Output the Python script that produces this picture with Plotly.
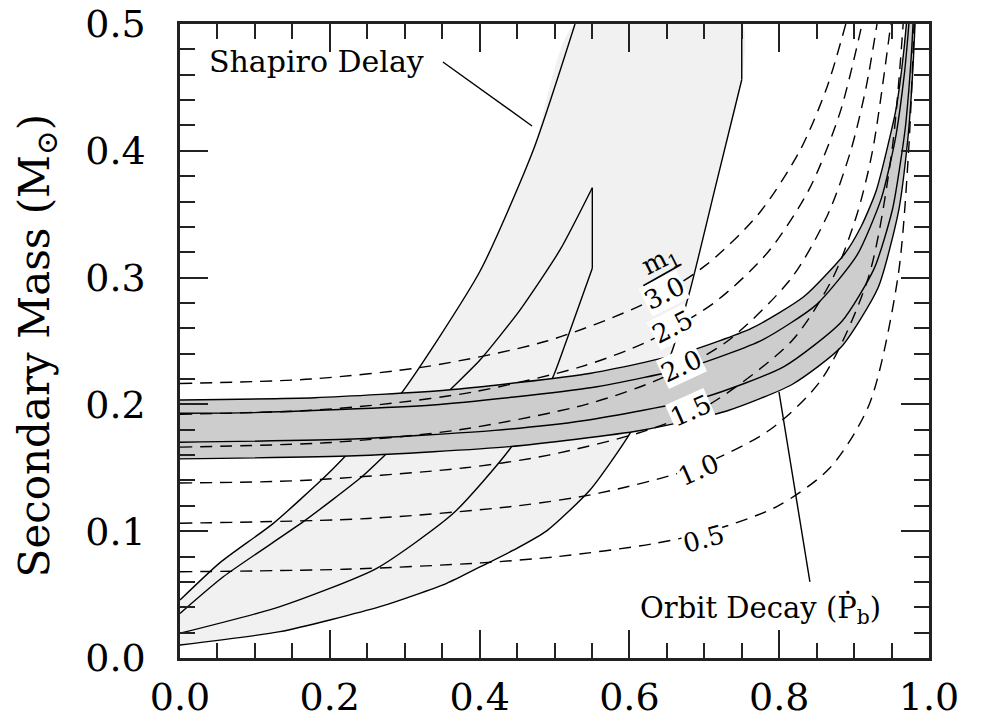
import plotly.graph_objects as go

FONT = "DejaVu Serif"

# Constant pulsar-mass curves (x = cos i, y = companion mass), one per m1 value
m1_values = ["0.5", "1.0", "1.5", "2.0", "2.5", "3.0"]
cosi_m1_05 = [0, 0.2195, 0.4016, 0.5042, 0.6302, 0.7076, 0.7986, 0.8678, 0.9202, 0.9584, 0.9728, 0.9801]
m2_m1_05 = [0.068, 0.070, 0.075, 0.080, 0.090, 0.100, 0.120, 0.150, 0.200, 0.300, 0.400, 0.500]
cosi_m1_10 = [0, 0.2506, 0.4507, 0.5594, 0.6868, 0.7876, 0.8569, 0.9190, 0.9505, 0.9655]
m2_m1_10 = [0.1063, 0.110, 0.120, 0.130, 0.150, 0.180, 0.220, 0.300, 0.400, 0.500]
cosi_m1_15 = [0, 0.1625, 0.3807, 0.4923, 0.6260, 0.7068, 0.8167, 0.8718, 0.9039, 0.9246, 0.9490]
m2_m1_15 = [0.138, 0.140, 0.150, 0.160, 0.180, 0.200, 0.250, 0.300, 0.350, 0.400, 0.500]
cosi_m1_20 = [0, 0.2020, 0.3731, 0.5424, 0.6401, 0.7312, 0.8168, 0.8651, 0.8955, 0.9160, 0.9306]
m2_m1_20 = [0.1663, 0.170, 0.180, 0.200, 0.220, 0.250, 0.300, 0.350, 0.400, 0.450, 0.500]
cosi_m1_25 = [0, 0.1637, 0.2694, 0.3933, 0.5370, 0.6259, 0.7128, 0.7849, 0.8403, 0.8811, 0.9106]
m2_m1_25 = [0.1922, 0.195, 0.200, 0.210, 0.230, 0.250, 0.280, 0.320, 0.370, 0.430, 0.500]
cosi_m1_30 = [0, 0.1749, 0.3308, 0.4899, 0.6218, 0.7025, 0.7722, 0.8275, 0.8637, 0.8889]
m2_m1_30 = [0.2165, 0.220, 0.230, 0.250, 0.280, 0.310, 0.350, 0.400, 0.450, 0.500]

# Orbit-decay (Pb-dot) band: outer edges and two inner curves
pb_top_x = [0, 0.1798, 0.3571, 0.5485, 0.6725, 0.7634, 0.8331, 0.8872, 0.9097, 0.9295, 0.9554, 0.9634, 0.9698, 0.9770]
pb_top_y = [0.2035, 0.2053, 0.2113, 0.2246, 0.2406, 0.2601, 0.2851, 0.3186, 0.3407, 0.3685, 0.4310, 0.4635, 0.4997, 0.5601]
pb_in1_x = [0, 0.0964, 0.3376, 0.5503, 0.6827, 0.7778, 0.8494, 0.9039, 0.9364, 0.9550, 0.9675, 0.9712, 0.9732, 0.9753, 0.9778]
pb_in1_y = [0.1930, 0.1935, 0.1995, 0.2133, 0.2299, 0.2509, 0.2785, 0.3177, 0.3625, 0.4092, 0.4627, 0.4861, 0.5008, 0.5190, 0.5440]
pb_in2_x = [0, 0.2310, 0.4200, 0.5381, 0.6983, 0.8064, 0.8835, 0.9272, 0.9515, 0.9679, 0.9733, 0.9769, 0.9807]
pb_in2_y = [0.1701, 0.1727, 0.1795, 0.1871, 0.2053, 0.2298, 0.2654, 0.3077, 0.3545, 0.4158, 0.4497, 0.4799, 0.5227]
pb_bot_x = [0, 0.2341, 0.4398, 0.6148, 0.7319, 0.8177, 0.8824, 0.9320, 0.9597, 0.9718, 0.9764, 0.9793, 0.9818]
pb_bot_y = [0.1570, 0.1595, 0.1667, 0.1794, 0.1952, 0.2159, 0.2450, 0.2920, 0.3535, 0.4097, 0.4442, 0.4738, 0.5058]

# Shapiro-delay contours: outer region edges
sh_left_x = [0, 0.0534, 0.1246, 0.1913, 0.2180, 0.2937, 0.4005, 0.4717, 0.5274]
sh_left_y = [0.0457, 0.0752, 0.1062, 0.1417, 0.1575, 0.2074, 0.3050, 0.4006, 0.5000]
sh_right_x = [0, 0.1335, 0.2670, 0.3561, 0.4005, 0.4450, 0.4896, 0.5474, 0.6008, 0.6542, 0.6810, 0.7150, 0.7500]
sh_right_y = [0.0103, 0.0208, 0.0405, 0.0589, 0.0718, 0.0850, 0.1003, 0.1325, 0.1772, 0.2376, 0.2900, 0.3720, 0.4560]
sh_right_cap_x = [0.75, 0.75]
sh_right_cap_y = [0.456, 0.500]
# inner contour: upper edge, cut edge, lower edge
sh_in_up_x = [0, 0.0578, 0.1646, 0.2403, 0.2714, 0.3605, 0.4005, 0.4539, 0.5073, 0.5505]
sh_in_up_y = [0.0352, 0.0641, 0.1075, 0.1417, 0.1588, 0.2114, 0.2350, 0.2744, 0.3218, 0.3709]
sh_in_cut_x = [0.5505, 0.5505]
sh_in_cut_y = [0.3709, 0.3073]
sh_in_lo_x = [0.5505, 0.5163, 0.4962, 0.4406, 0.3649, 0.2626, 0.1335, 0]
sh_in_lo_y = [0.3073, 0.2508, 0.2192, 0.1650, 0.1141, 0.0707, 0.0405, 0.0195]

fig = go.Figure()

# Shapiro region fill
fig.add_trace(go.Scatter(
    x=sh_left_x + [0.75] + sh_right_x[::-1],
    y=sh_left_y + [0.5] + sh_right_y[::-1],
    fill="toself", fillcolor="#f1f1f1", line=dict(width=0, shape="spline", smoothing=0.6),
    mode="lines", hoverinfo="skip"))
for xs, ys, shape in [(sh_left_x, sh_left_y, "spline"), (sh_right_x, sh_right_y, "spline"),
                      (sh_right_cap_x, sh_right_cap_y, "linear"),
                      (sh_in_up_x, sh_in_up_y, "spline"), (sh_in_cut_x, sh_in_cut_y, "linear"),
                      (sh_in_lo_x, sh_in_lo_y, "spline")]:
    fig.add_trace(go.Scatter(x=xs, y=ys, mode="lines",
                             line=dict(color="black", width=1.4, shape=shape, smoothing=0.6),
                             hoverinfo="skip"))

# Orbit-decay band
fig.add_trace(go.Scatter(
    x=pb_top_x + pb_bot_x[::-1], y=pb_top_y + pb_bot_y[::-1],
    fill="toself", fillcolor="#cdcdcd", mode="lines",
    line=dict(width=0, shape="spline", smoothing=0.6), hoverinfo="skip"))
for xs, ys in [(pb_top_x, pb_top_y), (pb_in1_x, pb_in1_y), (pb_in2_x, pb_in2_y), (pb_bot_x, pb_bot_y)]:
    fig.add_trace(go.Scatter(x=xs, y=ys, mode="lines",
                             line=dict(color="black", width=1.4, shape="spline", smoothing=0.6),
                             hoverinfo="skip"))

# Mass-function curves
for xs, ys in [(cosi_m1_05, m2_m1_05), (cosi_m1_10, m2_m1_10), (cosi_m1_15, m2_m1_15),
               (cosi_m1_20, m2_m1_20), (cosi_m1_25, m2_m1_25), (cosi_m1_30, m2_m1_30)]:
    fig.add_trace(go.Scatter(x=xs, y=ys, mode="lines",
                             line=dict(color="black", width=1.4, dash="12px,8px",
                                       shape="spline", smoothing=0.8),
                             hoverinfo="skip"))

# Curve labels
label_pos = {
    "0.5": (0.699, 0.094, -15),
    "1.0": (0.692, 0.148, -24),
    "1.5": (0.681, 0.195, -24),
    "2.0": (0.670, 0.230, -25),
    "2.5": (0.657, 0.261, -27),
    "3.0": (0.6475, 0.2875, -27),
}
for lab in m1_values:
    x, y, ang = label_pos[lab]
    fig.add_annotation(x=x, y=y, text=lab, showarrow=False, textangle=ang,
                       bgcolor="white", borderpad=0,
                       font=dict(family=FONT, size=26, color="black"))
fig.add_annotation(x=0.641, y=0.3135, text="m<sub>1</sub>", showarrow=False, textangle=-27,
                   font=dict(family=FONT, size=26, color="black"))
fig.add_shape(type="line", x0=0.6186, y0=0.2935, x1=0.6695, y1=0.3105,
              line=dict(color="black", width=1.8), layer="above")

# Region labels and leader lines
fig.add_annotation(x=0.1829, y=0.4705, text="Shapiro Delay", showarrow=False,
                   font=dict(family=FONT, size=30, color="black"))
fig.add_shape(type="line", x0=0.351, y0=0.470, x1=0.470, y1=0.4196,
              line=dict(color="black", width=1.4), layer="above")
fig.add_annotation(x=0.7755, y=0.0385, text="Orbit Decay (Ṗ<sub>b</sub>)", showarrow=False,
                   font=dict(family=FONT, size=29, color="black"))
fig.add_shape(type="line", x0=0.7997, y0=0.2098, x1=0.841, y1=0.060,
              line=dict(color="black", width=1.4), layer="above")

# Y-axis title
fig.add_annotation(xref="paper", yref="paper", x=-0.191, y=0.493,
                   xanchor="center", yanchor="middle",
                   text="Secondary Mass (M<sub>⊙</sub>)", showarrow=False, textangle=-90,
                   font=dict(family=FONT, size=42, color="black"))

tickfont = dict(family=FONT, size=38, color="black")
axis_style = dict(ticks="inside", ticklen=28, tickwidth=2, tickcolor="#222222", mirror="ticks",
                  showline=True, linecolor="#222222", linewidth=2.5,
                  showgrid=False, zeroline=False, automargin=False, tickfont=tickfont,
                  tick0=0, tickmode="linear", tickformat=".1f")

fig.update_layout(
    xaxis=dict(range=[0, 1.0], dtick=0.2, ticklabelstandoff=4,
               minor=dict(ticks="inside", ticklen=15, tickwidth=1.8, tickcolor="#222222",
                          tickmode="linear", tick0=0, dtick=0.05),
               **axis_style),
    yaxis=dict(range=[0, 0.5], dtick=0.1, ticklabelstandoff=24,
               minor=dict(ticks="inside", ticklen=15, tickwidth=1.8, tickcolor="#222222",
                          tickmode="linear", tick0=0, dtick=0.02),
               **axis_style),
    width=985, height=721,
    margin=dict(l=180, r=56, t=24, b=63),
    plot_bgcolor="white", paper_bgcolor="white",
    showlegend=False, hovermode=False,
)

fig.write_html("out.html")
